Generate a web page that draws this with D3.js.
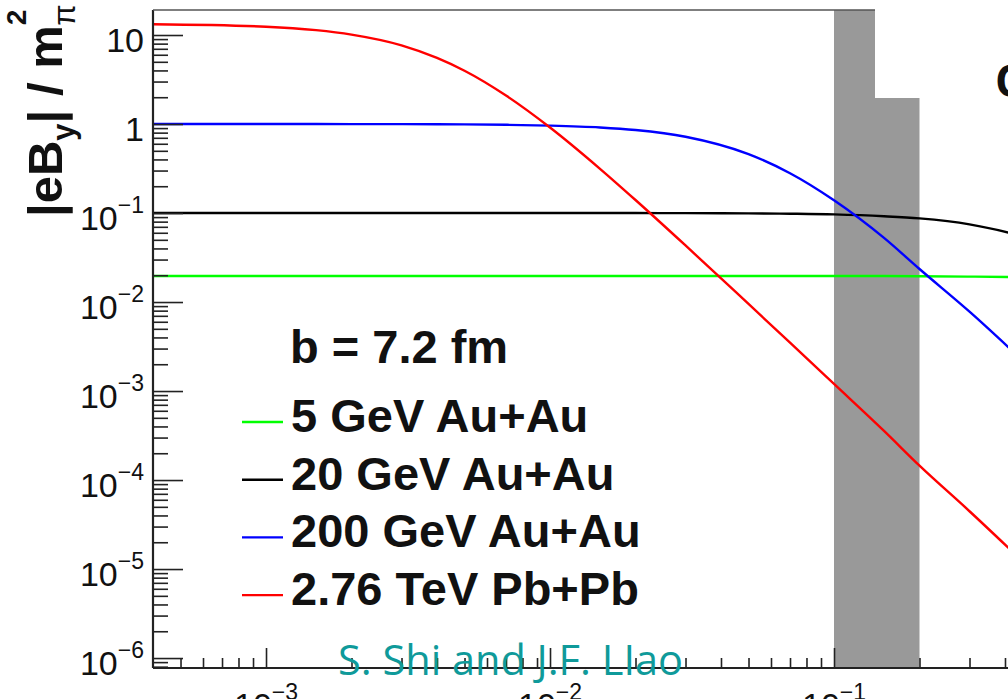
<!DOCTYPE html>
<html>
<head>
<meta charset="utf-8">
<script src="https://cdn.jsdelivr.net/npm/d3@7"></script>
<style>
body { margin: 0; background: #fff; }
svg { display: block; }
</style>
</head>
<body>
<script>
// time samples (x axis)
var times = [4e-4, 1e-3, 1.5e-3, 2e-3, 3e-3, 4e-3, 5e-3, 7e-3, 1e-2, 1.5e-2, 2e-2, 3e-2, 5e-2, 7e-2, 0.1, 0.15, 0.2, 0.3, 0.5, 1];

// |eB_y| / m_pi^2 for each collision system
var au5 = [0.0196, 0.0196, 0.0196, 0.0196, 0.0196, 0.0196, 0.0196, 0.0196, 0.0196, 0.0196, 0.0196, 0.0196, 0.0196, 0.0196, 0.0196, 0.0196, 0.0195, 0.0193, 0.019, 0.0183];
var au20 = [0.1, 0.1, 0.1, 0.1, 0.1, 0.1, 0.1, 0.1, 0.1, 0.1, 0.0999, 0.0997, 0.0991, 0.0982, 0.0965, 0.092, 0.087, 0.0745, 0.050, 0.0158];
var au200 = [1.0, 1.0, 1.0, 0.998, 0.996, 0.994, 0.99, 0.98, 0.96, 0.915, 0.856, 0.72, 0.459, 0.28, 0.139, 0.0525, 0.0235, 0.0078, 0.00174, 2.2e-4];
var pb276 = [13.2, 12.4, 11.35, 10.1, 7.65, 5.53, 3.97, 2.09, 0.914, 0.314, 0.140, 0.0432, 0.00951, 0.00349, 0.0012, 3.56e-4, 1.45e-4, 4.46e-5, 9.6e-6, 1.2e-6];

var seriesNames = ["5 GeV Au+Au", "20 GeV Au+Au", "200 GeV Au+Au", "2.76 TeV Pb+Pb"];
var seriesColors = ["#00ff00", "#000000", "#0000ff", "#ff0000"];
var seriesValues = [au5, au20, au200, pb276];

// shaded time window
var band = [0.1, 0.2];

// tick values / labels
var xMajor = [1e-3, 1e-2, 1e-1];
var xMajorLabels = [["10", "\u22123"], ["10", "\u22122"], ["10", "\u22121"]];
var yMajor = [10, 1, 1e-1, 1e-2, 1e-3, 1e-4, 1e-5, 1e-6];
var yMajorLabels = [["10", ""], ["1", ""], ["10", "\u22121"], ["10", "\u22122"], ["10", "\u22123"], ["10", "\u22124"], ["10", "\u22125"], ["10", "\u22126"]];

var W = 1008, H = 699;
var plotLeft = 153, plotTop = 10, plotBottom = 668;
var font = "'Liberation Sans', Arial, Helvetica, sans-serif";

var svg = d3.select("body").append("svg")
    .attr("width", W)
    .attr("height", H);

var x = d3.scaleLog().domain([4e-4, 1]).range([plotLeft, 1118]);
var y = d3.scaleLog().domain([7.73e-7, 19.1]).range([plotBottom, plotTop]);

svg.append("defs").append("clipPath").attr("id", "plotclip")
    .append("rect")
    .attr("x", plotLeft).attr("y", plotTop)
    .attr("width", x(1) - plotLeft).attr("height", plotBottom - plotTop);

// gray band
svg.append("rect")
    .attr("x", x(band[0]))
    .attr("y", plotTop)
    .attr("width", x(band[1]) - x(band[0]))
    .attr("height", plotBottom - plotTop)
    .attr("fill", "#999999");

// curves
var line = d3.line()
    .x(function(d) { return x(d[0]); })
    .y(function(d) { return y(d[1]); })
    .curve(d3.curveMonotoneX);

var plot = svg.append("g").attr("clip-path", "url(#plotclip)");
seriesValues.forEach(function(vals, i) {
    plot.append("path")
        .datum(times.map(function(t, j) { return [t, vals[j]]; }))
        .attr("d", line)
        .attr("fill", "none")
        .attr("stroke", seriesColors[i])
        .attr("stroke-width", 2.4);
});

// minor tick values for the log axes
function minorTicks(lo, hi) {
    var out = [];
    for (var e = -7; e <= 1; e++) {
        for (var m = 2; m <= 9; m++) {
            var v = m * Math.pow(10, e);
            if (v > lo && v < hi) out.push(v);
        }
    }
    return out;
}

function tickStyle(g) {
    g.select(".domain").remove();
    g.selectAll("line").attr("stroke", "#222").attr("stroke-width", 1.6);
}

// x axis (ticks point up, into the frame)
svg.append("g")
    .attr("transform", "translate(0," + plotBottom + ")")
    .call(d3.axisBottom(x).tickValues(minorTicks(4e-4, 1)).tickSize(-10).tickFormat(""))
    .call(tickStyle);
svg.append("g")
    .attr("transform", "translate(0," + plotBottom + ")")
    .call(d3.axisBottom(x).tickValues(xMajor).tickSize(-20).tickFormat(""))
    .call(tickStyle);

// y axis (ticks point right, into the frame)
svg.append("g")
    .attr("transform", "translate(" + plotLeft + ",0)")
    .call(d3.axisLeft(y).tickValues(minorTicks(7.73e-7, 19.1)).tickSize(-15).tickFormat(""))
    .call(tickStyle);
svg.append("g")
    .attr("transform", "translate(" + plotLeft + ",0)")
    .call(d3.axisLeft(y).tickValues(yMajor).tickSize(-30).tickFormat(""))
    .call(tickStyle);

// frame lines
svg.append("line").attr("x1", plotLeft).attr("x2", W).attr("y1", plotBottom).attr("y2", plotBottom)
    .attr("stroke", "#222").attr("stroke-width", 2.2);
svg.append("line").attr("x1", plotLeft).attr("x2", plotLeft).attr("y1", plotTop).attr("y2", plotBottom)
    .attr("stroke", "#222").attr("stroke-width", 2.2);
svg.append("line").attr("x1", plotLeft).attr("x2", W).attr("y1", plotTop).attr("y2", plotTop)
    .attr("stroke", "#555").attr("stroke-width", 1.6);

// y tick labels
var yl = svg.append("g").selectAll("text")
    .data(yMajor)
    .enter().append("text")
    .attr("x", 144)
    .attr("y", function(d) { return y(d) + 17; })
    .attr("text-anchor", "end")
    .style("font-family", font)
    .style("font-size", "34px")
    .attr("fill", "#111");
yl.append("tspan").text(function(d, i) { return yMajorLabels[i][0]; });
yl.append("tspan")
    .attr("dy", -17)
    .style("font-size", "23px")
    .text(function(d, i) { return yMajorLabels[i][1]; });

// x tick labels (mostly cut off at the bottom edge)
var xl = svg.append("g").selectAll("text")
    .data(xMajor)
    .enter().append("text")
    .attr("x", function(d) { return x(d) - 32; })
    .attr("y", 717)
    .style("font-family", font)
    .style("font-size", "34px")
    .attr("fill", "#111");
xl.append("tspan").text(function(d, i) { return xMajorLabels[i][0]; });
xl.append("tspan")
    .attr("dy", -17)
    .style("font-size", "23px")
    .text(function(d, i) { return xMajorLabels[i][1]; });

// y axis title  |eB_y| / m_pi^2
var yt = svg.append("text")
    .attr("transform", "translate(62,217) rotate(-90)")
    .style("font-family", font)
    .style("font-weight", "bold")
    .style("font-size", "49px")
    .attr("fill", "#111");
yt.append("tspan").text("|eB");
yt.append("tspan").attr("dy", 12).style("font-size", "31px").text("y");
yt.append("tspan").attr("dy", -12).text("| / m");
yt.append("tspan").attr("dy", -36).style("font-size", "28px").text("2");
yt.append("tspan").attr("dx", -16).attr("dy", 49).style("font-size", "31px").style("font-weight", "normal").text("\u03c0");

// legend
svg.append("text")
    .attr("x", 290).attr("y", 363)
    .style("font-family", font)
    .style("font-weight", "bold")
    .style("font-size", "47px")
    .attr("fill", "#111")
    .text("b = 7.2 fm");

var leg = svg.append("g").selectAll("g")
    .data(seriesNames)
    .enter().append("g")
    .attr("transform", function(d, i) { return "translate(0," + (432 + i * 57.7) + ")"; });
leg.append("line")
    .attr("x1", 242).attr("x2", 283)
    .attr("y1", -10).attr("y2", -10)
    .attr("stroke", function(d, i) { return seriesColors[i]; })
    .attr("stroke-width", 2.4);
leg.append("text")
    .attr("x", 291)
    .style("font-family", font)
    .style("font-weight", "bold")
    .style("font-size", "47px")
    .attr("fill", "#111")
    .text(function(d) { return d; });

// white box from the slide covering the top right corner
svg.append("rect")
    .attr("x", 875).attr("y", 0)
    .attr("width", W - 875).attr("height", 98)
    .attr("fill", "#fff");
svg.append("text")
    .attr("x", 995).attr("y", 97)
    .style("font-family", "'Open Sans', sans-serif")
    .style("font-weight", "bold")
    .style("font-size", "44px")
    .attr("fill", "#111")
    .text("O");

// credit
svg.append("text")
    .attr("x", 338).attr("y", 675)
    .attr("textLength", 345)
    .attr("lengthAdjust", "spacingAndGlyphs")
    .style("font-family", "'Open Sans', sans-serif")
    .style("font-size", "42px")
    .attr("fill", "#0f9a9a")
    .text("S. Shi and J.F. LIao");
</script>
</body>
</html>
